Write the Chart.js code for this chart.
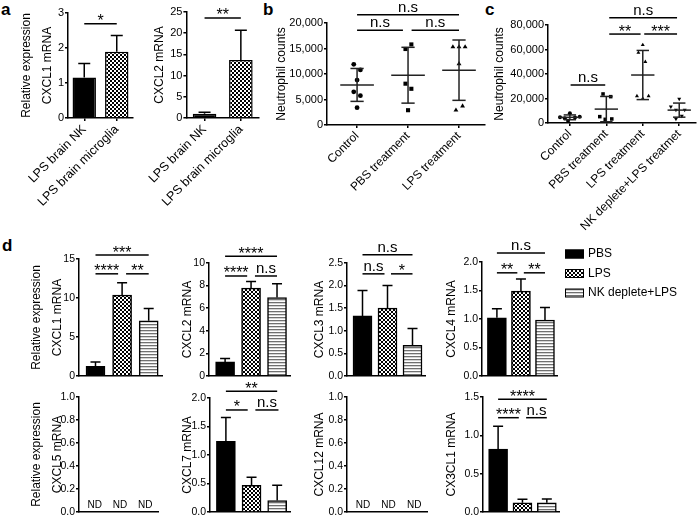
<!DOCTYPE html>
<html lang="en">
<head>
<meta charset="UTF-8">
<title>NK cells, neutrophils and chemokine mRNA</title>
<script src="https://cdn.jsdelivr.net/npm/chart.js"></script>
<style>
    html, body { margin: 0; padding: 0; background: #fff; }
    body { width: 700px; height: 517px; position: relative; overflow: hidden; font-family: 'Liberation Sans', Arial, sans-serif; }
    canvas { position: absolute; }
    .tag { position: absolute; font-weight: bold; font-size: 17px; line-height: 17px; color: #000; }
</style>
</head>
<body>
<div class="tag" style="left:1px;top:1px">a</div>
<div class="tag" style="left:263px;top:1px">b</div>
<div class="tag" style="left:485px;top:1px">c</div>
<div class="tag" style="left:2px;top:237px">d</div>

<script>
    // ---- panel a ----
    const aCats = ['LPS brain NK', 'LPS brain microglia'];
    const aCxcl1 = [1.16, 1.89];
    const aCxcl1Sd = [0.40, 0.47];
    const aCxcl2 = [1.0, 13.7];
    const aCxcl2Sd = [0.34, 7.0];

    // ---- panel b (individual mice) ----
    const bCats = ['Control', 'PBS treatment', 'LPS treatment'];
    const bControl = [11900, 10800, 8800, 6500, 5750, 3400];
    const bPbs = [15800, 14900, 8100, 7100, 2900];
    const bLps = [15300, 15300, 15300, 12000, 2900, 3700];
    // horizontal scatter of the dots, in category units
    const bControlJit = [-0.065, 0.065, 0, -0.065, 0.065, 0];
    const bPbsJit = [0.065, -0.05, -0.05, 0.065, 0];
    const bLpsJit = [-0.12, 0, 0.12, 0, -0.06, 0.07];

    // ---- panel c ----
    const cCats = ['Control', 'PBS treatment', 'LPS treatment', 'NK deplete+LPS treatmet'];
    const cControl = [4600, 3800, 7900, 4400, 5200, 1900];
    const cPbs = [23700, 21500, 5200, 3000, 3300];
    const cLps = [63700, 57400, 50000, 22000, 19900, 22000];
    const cNk = [19600, 13300, 10600, 10600, 5700, 3300];
    const cControlJit = [-0.27, -0.14, 0, 0.14, 0.27, -0.05];
    const cPbsJit = [-0.09, 0.12, -0.18, -0.03, 0.15];
    const cLpsJit = [0, -0.12, 0.07, -0.16, 0, 0.16];
    const cNkJit = [0, -0.23, -0.09, 0.15, 0.07, -0.09];

    // ---- panel d (mean and SD) ----
    const dGroups = ['PBS', 'LPS', 'NK deplete+LPS'];
    const cxcl1 = [1.24, 10.37, 7.07];
    const cxcl1Sd = [0.56, 1.59, 1.59];
    const cxcl2 = [1.25, 7.77, 6.94];
    const cxcl2Sd = [0.30, 0.60, 1.22];
    const cxcl3 = [1.33, 1.50, 0.68];
    const cxcl3Sd = [0.56, 0.50, 0.37];
    const cxcl4 = [1.02, 1.49, 0.98];
    const cxcl4Sd = [0.16, 0.21, 0.22];
    const cxcl7 = [1.24, 0.47, 0.20];
    const cxcl7Sd = [0.42, 0.14, 0.27];
    const cx3cl1 = [0.82, 0.12, 0.12];
    const cx3cl1Sd = [0.30, 0.045, 0.05];

    // significance bars: [from, to, value, label]
    const aSig1 = [[0, 1, 2.69, '*']];
    const aSig2 = [[0, 1, 23.6, '**']];
    const bSig = [[0, 2, 21600, 'n.s'], [0, 0.9, 18600, 'n.s'], [1.07, 2, 18600, 'n.s']];
    const cSig = [[1.08, 2.94, 86000, 'n.s'], [1.08, 1.94, 72600, '**'], [2.04, 2.94, 72600, '***'], [0.02, 0.97, 31000, 'n.s']];
    const cxcl1Sig = [[0, 2, 15.5, '***'], [0, 0.85, 13.1, '****'], [1.15, 2, 13.1, '**']];
    const cxcl2Sig = [[0, 2, 10.6, '****'], [0, 0.85, 8.85, '****'], [1.15, 2, 8.85, 'n.s']];
    const cxcl3Sig = [[0, 2, 2.68, 'n.s'], [0, 0.88, 2.26, 'n.s'], [1.14, 2, 2.26, '*']];
    const cxcl4Sig = [[0, 2, 2.16, 'n.s'], [0, 0.85, 1.81, '**'], [1.12, 2, 1.81, '**']];
    const cxcl7Sig = [[0, 2, 2.12, '**'], [0, 0.85, 1.79, '*'], [1.15, 2.05, 1.79, 'n.s']];
    const cx3cl1Sig = [[0, 2, 1.47, '****'], [0, 0.85, 1.23, '****'], [1.15, 2, 1.23, 'n.s']];

    const FONT = "'Liberation Sans', Arial, Helvetica, sans-serif";
    Chart.defaults.font.family = FONT;
    Chart.defaults.color = '#000';
    Chart.defaults.animation = false;
    Chart.defaults.plugins.legend.display = false;
    Chart.defaults.plugins.tooltip.enabled = false;

    // fill patterns
    function makePattern(w, h, draw) {
        const t = document.createElement('canvas');
        t.width = w; t.height = h;
        const g = t.getContext('2d');
        draw(g);
        return g.createPattern(t, 'repeat');
    }
    const checker = makePattern(4, 4, g => {
        g.fillStyle = '#fff'; g.fillRect(0, 0, 4, 4);
        g.fillStyle = '#000'; g.fillRect(0, 0, 2, 2); g.fillRect(2, 2, 2, 2);
    });
    const stripes = makePattern(3, 3, g => {
        g.fillStyle = '#fff'; g.fillRect(0, 0, 3, 3);
        g.fillStyle = '#707070'; g.fillRect(0, 0, 3, 1);
        g.fillStyle = '#d4d4d4'; g.fillRect(0, 1, 3, 1);
    });
    const groupFills = ['#000', checker, stripes];

    // plugins
    const sigPlugin = {
        id: 'sig',
        afterDraw(chart, args, opts) {
            const items = opts.items || [];
            const {ctx, scales: {x, y}} = chart;
            ctx.save();
            items.forEach(([a, b, v, label]) => {
                const x1 = x.getPixelForValue(a), x2 = x.getPixelForValue(b), yy = y.getPixelForValue(v);
                ctx.strokeStyle = '#000';
                ctx.lineWidth = 1.5;
                ctx.beginPath(); ctx.moveTo(x1, yy); ctx.lineTo(x2, yy); ctx.stroke();
                const star = label.includes('*');
                ctx.fillStyle = '#000';
                ctx.textAlign = 'center';
                ctx.textBaseline = 'alphabetic';
                ctx.font = (star ? 16 : 15) + 'px ' + FONT;
                ctx.fillText(label, (x1 + x2) / 2, star ? yy + 2.5 : yy - 3);
            });
            ctx.restore();
        }
    };

    const errPlugin = {
        id: 'err',
        afterDatasetsDraw(chart, args, opts) {
            if (!opts.sd) return;
            const {ctx} = chart;
            const y = chart.scales.y;
            const meta = chart.getDatasetMeta(0);
            ctx.save();
            ctx.strokeStyle = '#000';
            ctx.lineWidth = 1.5;
            meta.data.forEach((bar, i) => {
                const top = y.getPixelForValue(opts.mean[i] + opts.sd[i]);
                ctx.beginPath();
                ctx.moveTo(bar.x, bar.y); ctx.lineTo(bar.x, top);
                ctx.moveTo(bar.x - opts.cap, top); ctx.lineTo(bar.x + opts.cap, top);
                ctx.stroke();
            });
            ctx.restore();
        }
    };

    const ndPlugin = {
        id: 'nd',
        afterDraw(chart, args, opts) {
            if (!opts.show) return;
            const {ctx, scales: {x, y}} = chart;
            ctx.save();
            ctx.fillStyle = '#000';
            ctx.font = '10px ' + FONT;
            ctx.textAlign = 'center';
            ctx.textBaseline = 'alphabetic';
            dGroups.forEach((g, i) => ctx.fillText('ND', x.getPixelForValue(i), y.getPixelForValue(0) - 4));
            ctx.restore();
        }
    };

    const legendPlugin = {
        id: 'groupLegend',
        afterDraw(chart, args, opts) {
            if (!opts.show) return;
            const {ctx, chartArea} = chart;
            const fills = chart.data.datasets[0].backgroundColor;
            const x0 = chartArea.right + 8;
            ctx.save();
            dGroups.forEach((lab, i) => {
                const yc = chartArea.top - 8 + i * 19.5;
                ctx.fillStyle = fills[i];
                ctx.fillRect(x0, yc - 4.5, 19, 9);
                ctx.strokeStyle = '#000';
                ctx.lineWidth = 1;
                ctx.strokeRect(x0 + 0.5, yc - 4, 18, 8);
                ctx.fillStyle = '#000';
                ctx.font = '12px ' + FONT;
                ctx.textAlign = 'left';
                ctx.textBaseline = 'middle';
                ctx.fillText(lab, x0 + 23, yc);
            });
            ctx.restore();
        }
    };

    const meanSdPlugin = {
        id: 'meanSd',
        afterDatasetsDraw(chart, args, opts) {
            if (!opts.groups) return;
            const {ctx, scales: {x, y}} = chart;
            const seg = (x1, y1, x2, y2) => { ctx.beginPath(); ctx.moveTo(x1, y1); ctx.lineTo(x2, y2); ctx.stroke(); };
            ctx.save();
            ctx.strokeStyle = '#222';
            ctx.lineWidth = 1.5;
            opts.groups.forEach((vals, g) => {
                const m = vals.reduce((s, v) => s + v, 0) / vals.length;
                const sd = Math.sqrt(vals.reduce((s, v) => s + (v - m) ** 2, 0) / (vals.length - 1));
                const xc = x.getPixelForValue(g);
                seg(x.getPixelForValue(g - opts.half), y.getPixelForValue(m), x.getPixelForValue(g + opts.half), y.getPixelForValue(m));
                seg(xc, y.getPixelForValue(m - sd), xc, y.getPixelForValue(m + sd));
                [m - sd, m + sd].forEach(v => seg(x.getPixelForValue(g - opts.cap), y.getPixelForValue(v), x.getPixelForValue(g + opts.cap), y.getPixelForValue(v)));
            });
            ctx.restore();
        }
    };

    // canvas placed so that the plot area lands on box l/r/t/b
    function makeCanvas(box) {
        const c = document.createElement('canvas');
        const w = box.yw + (box.r - box.l) + box.pr;
        const h = box.pt + (box.b - box.t) + box.xh;
        c.width = w; c.height = h;
        c.style.left = (box.l - box.yw) + 'px';
        c.style.top = (box.t - box.pt) + 'px';
        c.style.width = w + 'px';
        c.style.height = h + 'px';
        document.body.appendChild(c);
        return c;
    }

    const axisGrid = { display: true, drawOnChartArea: false, drawTicks: true, tickLength: 3, color: '#000', lineWidth: 1.5, offset: false };
    const axisBorder = { display: true, color: '#000', width: 1.5 };

    function yScale(box, max, step, title, fmt, tickSize) {
        return {
            min: 0, max: max,
            afterFit: s => { s.width = box.yw; },
            border: axisBorder,
            grid: axisGrid,
            ticks: { stepSize: step, color: '#000', font: { size: tickSize }, padding: 1, callback: fmt },
            title: {
                display: true, text: title, color: '#000',
                font: { size: 12, lineHeight: 1.75 },
                padding: { top: box.tx - (box.l - box.yw) - 10.5, bottom: 0 }
            }
        };
    }

    function layoutPad(box) {
        return { padding: { top: box.pt, right: box.pr, left: 0, bottom: 0 } };
    }

    const fmtInt = v => String(v);
    const fmt1 = v => v.toFixed(1);
    const fmtK = v => v.toLocaleString('en-US');

    // panel a charts
    function aChart(box, vals, sd, max, step, title, sig, pct) {
        new Chart(makeCanvas(box), {
            type: 'bar',
            data: {
                labels: aCats,
                datasets: [{ data: vals, backgroundColor: ['#000', checker], borderColor: '#000', borderWidth: 1.5, barPercentage: pct, categoryPercentage: 1 }]
            },
            options: {
                responsive: false,
                layout: layoutPad(box),
                scales: {
                    x: {
                        afterFit: s => { s.height = box.xh; },
                        border: axisBorder,
                        grid: axisGrid,
                        ticks: { minRotation: 45, maxRotation: 45, autoSkip: false, color: '#000', font: { size: 12.5 }, padding: 1 }
                    },
                    y: yScale(box, max, step, title, fmtInt, 11)
                },
                plugins: { err: { mean: vals, sd: sd, cap: 6 }, sig: { items: sig } }
            },
            plugins: [errPlugin, sigPlugin]
        });
    }

    aChart({ l: 68, r: 133, t: 13, b: 118, yw: 58, pt: 13, pr: 10, xh: 100, tx: 27 },
        aCxcl1, aCxcl1Sd, 3, 1, ['Relative expression', 'CXCL1 mRNA'], aSig1, 0.72);
    aChart({ l: 180, r: 259, t: 12, b: 118, yw: 40, pt: 12, pr: 10, xh: 100, tx: 153 },
        aCxcl2, aCxcl2Sd, 25, 5, 'CXCL2 mRNA', aSig2, 0.65);

    // panels b and c: dot plots with mean and SD
    function dotChart(box, cfg) {
        const datasets = cfg.groups.map((vals, g) => ({
            data: vals.map((v, k) => ({ x: g + cfg.jitter[g][k], y: v })),
            pointStyle: cfg.shapes[g],
            pointRotation: cfg.rotation[g],
            pointRadius: cfg.radius[g],
            backgroundColor: '#000',
            borderColor: '#000',
            borderWidth: 0
        }));
        new Chart(makeCanvas(box), {
            type: 'scatter',
            data: { datasets },
            options: {
                responsive: false,
                layout: layoutPad(box),
                scales: {
                    x: {
                        type: 'linear', min: cfg.xmin, max: cfg.xmax,
                        afterFit: s => { s.height = box.xh; },
                        afterBuildTicks: s => { s.ticks = cfg.cats.map((c, i) => ({ value: i })); },
                        border: axisBorder,
                        grid: axisGrid,
                        ticks: { minRotation: 45, maxRotation: 45, autoSkip: false, color: '#000', font: { size: 12 }, padding: 1, callback: v => cfg.cats[v] }
                    },
                    y: yScale(box, cfg.ymax, cfg.ystep, 'Neutrophil counts', fmtK, 11)
                },
                plugins: { meanSd: { groups: cfg.groups, half: cfg.half, cap: cfg.cap }, sig: { items: cfg.sig } }
            },
            plugins: [meanSdPlugin, sigPlugin]
        });
    }

    dotChart({ l: 327, r: 485, t: 23, b: 125, yw: 57, pt: 23, pr: 8, xh: 80, tx: 282 }, {
        cats: bCats, groups: [bControl, bPbs, bLps], jitter: [bControlJit, bPbsJit, bLpsJit],
        shapes: ['circle', 'rect', 'triangle'], rotation: [0, 0, 0], radius: [2.4, 2.9, 2.8],
        xmin: -0.59, xmax: 2.51, ymax: 20000, ystep: 5000, half: 0.33, cap: 0.13, sig: bSig
    });

    dotChart({ l: 548, r: 697, t: 25, b: 123, yw: 58, pt: 25, pr: 3, xh: 120, tx: 500 }, {
        cats: cCats, groups: [cControl, cPbs, cLps, cNk], jitter: [cControlJit, cPbsJit, cLpsJit, cNkJit],
        shapes: ['circle', 'rect', 'triangle', 'triangle'], rotation: [0, 0, 0, 180], radius: [2.0, 2.5, 2.3, 2.3],
        xmin: -0.6, xmax: 3.46, ymax: 80000, ystep: 20000, half: 0.32, cap: 0.17, sig: cSig
    });

    // panel d: bar charts of the three groups
    function dChart(box, cfg) {
        const hasData = !!cfg.values;
        new Chart(makeCanvas(box), {
            type: 'bar',
            data: {
                datasets: hasData ? [{
                    data: cfg.values.map((v, i) => ({ x: i, y: v })),
                    backgroundColor: groupFills, borderColor: '#000', borderWidth: 1.5, barThickness: 19
                }] : []
            },
            options: {
                responsive: false,
                layout: layoutPad(box),
                scales: {
                    x: {
                        type: 'linear', min: -0.62, max: 2.5, offset: false,
                        afterFit: s => { s.height = box.xh; },
                        border: axisBorder,
                        grid: { display: false },
                        ticks: { display: false }
                    },
                    y: yScale(box, cfg.max, cfg.step, cfg.title, cfg.fmt, 10.5)
                },
                plugins: {
                    err: hasData ? { mean: cfg.values, sd: cfg.sd, cap: 5 } : {},
                    sig: { items: cfg.sig || [] },
                    nd: { show: !hasData },
                    groupLegend: { show: !!cfg.legend }
                }
            },
            plugins: [errPlugin, sigPlugin, ndPlugin, legendPlugin]
        });
    }

    dChart({ l: 79, r: 162, t: 259, b: 376, yw: 59, pt: 22, pr: 6, xh: 8, tx: 37 },
        { values: cxcl1, sd: cxcl1Sd, max: 15, step: 5, fmt: fmtInt, title: ['Relative expression', 'CXCL1 mRNA'], sig: cxcl1Sig });
    dChart({ l: 209, r: 290, t: 263, b: 376, yw: 34, pt: 24, pr: 6, xh: 8, tx: 188 },
        { values: cxcl2, sd: cxcl2Sd, max: 10, step: 2, fmt: fmtInt, title: 'CXCL2 mRNA', sig: cxcl2Sig });
    dChart({ l: 347, r: 425, t: 263, b: 376, yw: 40, pt: 24, pr: 6, xh: 8, tx: 320 },
        { values: cxcl3, sd: cxcl3Sd, max: 2.5, step: 0.5, fmt: fmt1, title: 'CXCL3 mRNA', sig: cxcl3Sig });
    dChart({ l: 482, r: 557, t: 262, b: 376, yw: 43, pt: 24, pr: 143, xh: 8, tx: 452 },
        { values: cxcl4, sd: cxcl4Sd, max: 2, step: 0.5, fmt: fmt1, title: 'CXCL4 mRNA', sig: cxcl4Sig, legend: true });

    dChart({ l: 79, r: 158, t: 397, b: 512, yw: 59, pt: 20, pr: 6, xh: 8, tx: 37 },
        { max: 1, step: 0.2, fmt: fmt1, title: ['Relative expression', 'CXCL5 mRNA'] });
    dChart({ l: 210, r: 290, t: 398, b: 512, yw: 35, pt: 22, pr: 6, xh: 8, tx: 188 },
        { values: cxcl7, sd: cxcl7Sd, max: 2, step: 0.5, fmt: fmt1, title: 'CXCL7 mRNA', sig: cxcl7Sig });
    dChart({ l: 347, r: 427, t: 397, b: 512, yw: 40, pt: 20, pr: 6, xh: 8, tx: 320 },
        { max: 1, step: 0.2, fmt: fmt1, title: 'CXCL12 mRNA' });
    dChart({ l: 483, r: 559, t: 397, b: 512, yw: 44, pt: 20, pr: 6, xh: 8, tx: 452 },
        { values: cx3cl1, sd: cx3cl1Sd, max: 1.5, step: 0.5, fmt: fmt1, title: 'CX3CL1 mRNA', sig: cx3cl1Sig });
</script>
</body>
</html>
